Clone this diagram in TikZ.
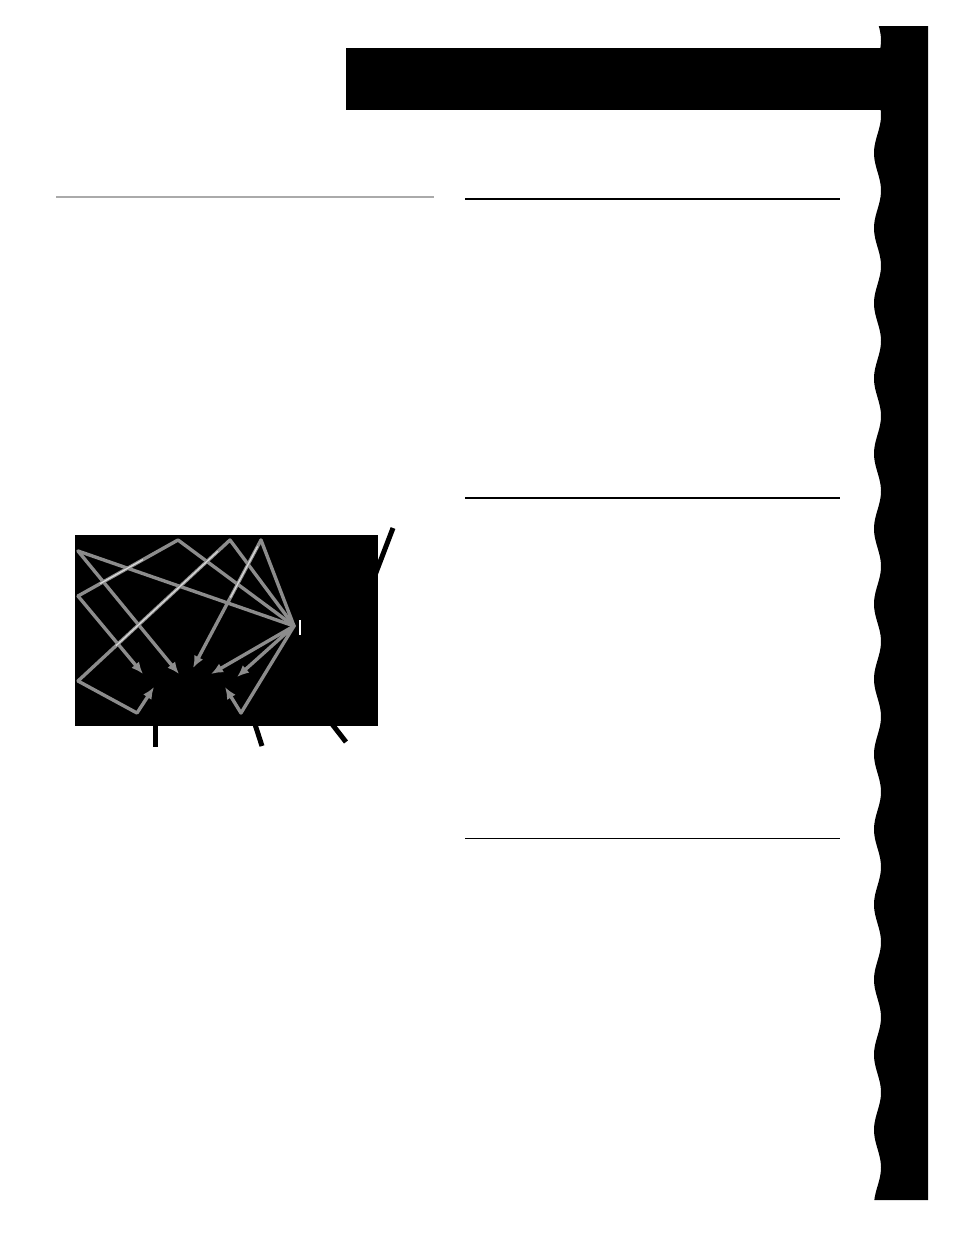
\documentclass[tikz,border=0pt]{standalone}
\usetikzlibrary{arrows.meta,calc}
\definecolor{linegray}{HTML}{8C8C8C}
\definecolor{rulegray}{HTML}{AAAAAA}
\definecolor{hilite}{HTML}{DADADA}
\begin{document}
\begin{tikzpicture}[x=1pt,y=-1pt,
  conn/.style={draw=linegray,line width=3.4pt,line join=round,line cap=round},
  arr/.style={conn,-{Latex[length=12pt,width=10pt]}},
  shine/.style={draw=hilite,line width=1.2pt},
  tick/.style={draw=black,line width=5pt},
  rulebk/.style={draw=black,line width=2pt}]
\useasboundingbox (0,0) rectangle (954,1235);
\fill[white] (0,0) rectangle (954,1235);
% top black bar
\fill[black] (346,48) rectangle (885,110);
% wavy right band
\fill[black] (928,26) -- (878.9,26)
  -- plot[domain=26:1200,samples=400,variable=\t] ({877.5-3.5*cos((\t-153)*4.7904)},\t)
  -- (928,1200) -- cycle;
% rules
\draw[draw=rulegray,line width=2pt] (56,197) -- (434,197);
\draw[rulebk] (465,199) -- (840,199);
\draw[rulebk] (465,497.5) -- (840,497.5);
\draw[draw=black,line width=1.3pt] (465,838.3) -- (840,838.3);
% diagram box
\fill[black] (75,535) rectangle (378,726);
\coordinate (p1) at (78,551);
\coordinate (p2) at (78,596);
\coordinate (p3) at (78,681);
\coordinate (t1) at (178,540);
\coordinate (t2) at (230,540);
\coordinate (t3) at (261,540);
\coordinate (hub) at (294,626);
\coordinate (b1) at (137,713);
\coordinate (b2) at (241,713);
\coordinate (a1) at (143,674);
\coordinate (a2) at (179,674);
\coordinate (a3) at (193,668);
\coordinate (a4) at (211,674);
\coordinate (a5) at (237,677);
\coordinate (a6) at (154,687);
\coordinate (a7) at (225,687);
% plain connectors
\draw[conn] (p1) -- (hub);
\draw[conn] (p2) -- (t1) -- (hub);
\draw[conn] (p3) -- (t2) -- (hub);
\draw[conn] (t3) -- (hub);
% arrows
\draw[arr] (p1) -- (a2);
\draw[arr] (p2) -- (a1);
\draw[arr] (t3) -- (a3);
\draw[arr] (hub) -- (a4);
\draw[arr] (hub) -- (a5);
\draw[arr] (p3) -- (b1) -- (a6);
\draw[arr] (hub) -- (b2) -- (a7);
% highlights
\draw[shine] ($(p2)!0.22!(t1)$) -- ($(p2)!0.65!(t1)$);
\draw[shine] ($(p3)!0.25!(t2)$) -- ($(p3)!0.92!(t2)$);
\draw[shine] ($(t3)!0.05!(a3)$) -- ($(t3)!0.45!(a3)$);
% white mark at hub
\fill[white] (298.7,620) rectangle (300.7,635);
% black ticks around the box
\draw[tick] (393,528) -- (372,583);
\draw[tick] (155.5,720) -- (155.5,747);
\draw[tick] (252,715) -- (262,746);
\draw[tick] (325,715) -- (346,742);
\end{tikzpicture}
\end{document}
